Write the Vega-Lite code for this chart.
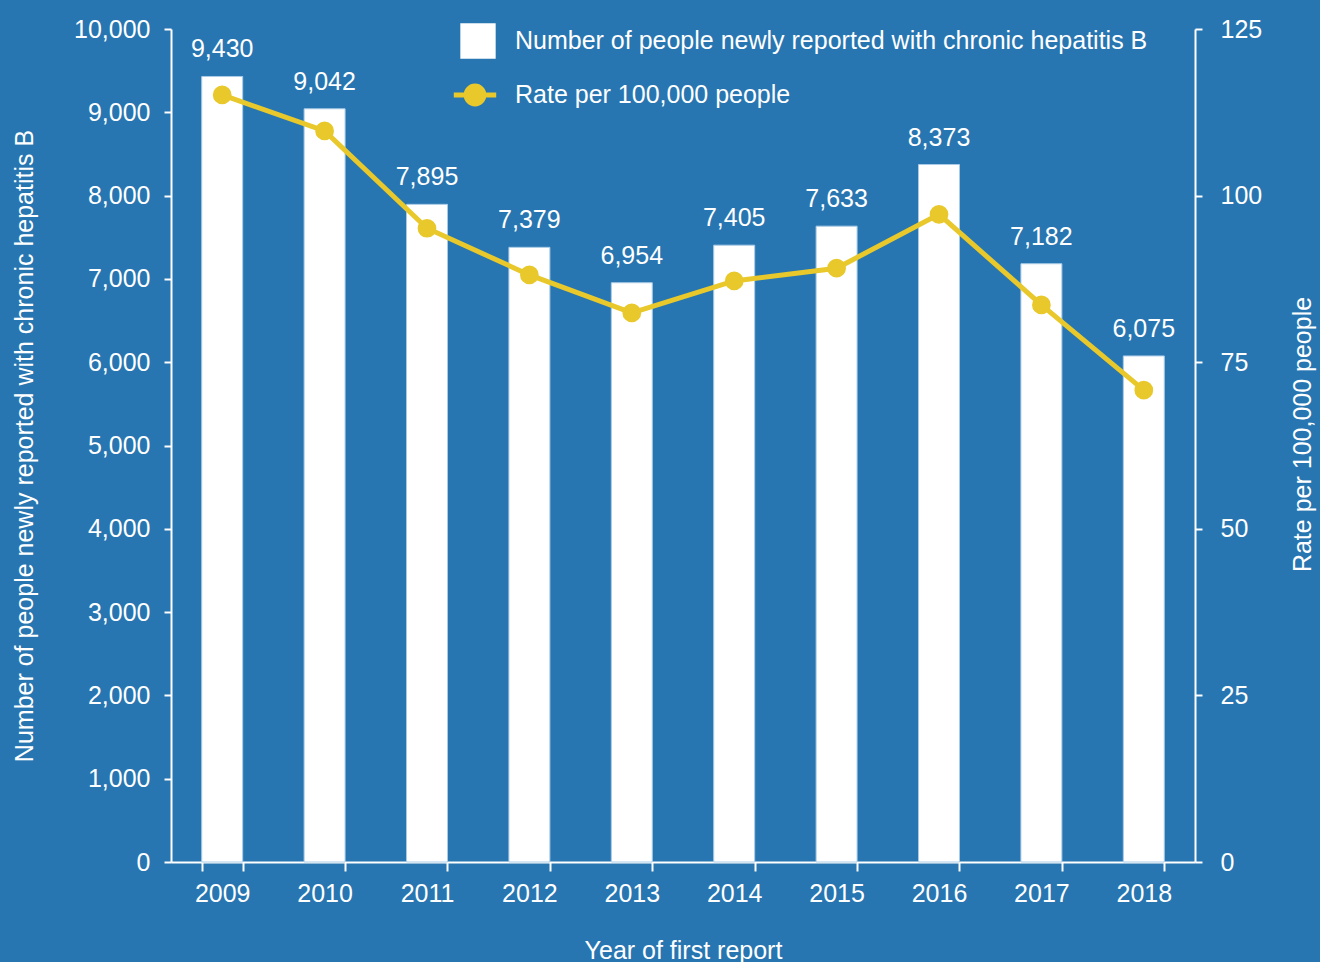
{
  "$schema": "https://vega.github.io/schema/vega-lite/v6.json",
  "width": 1024,
  "height": 833,
  "autosize": {"type": "none"},
  "padding": {"left": 171, "top": 29, "right": 125, "bottom": 100},
  "background": "#2776B1",
  "config": {
    "view": {"stroke": null},
    "font": "Liberation Sans",
    "axis": {
      "domainColor": "white",
      "domainWidth": 2,
      "tickColor": "white",
      "tickWidth": 2,
      "tickSize": 7,
      "labelColor": "white",
      "labelFontSize": 25,
      "labelFont": "Liberation Sans",
      "titleColor": "white",
      "titleFontSize": 25,
      "titleFontWeight": "normal",
      "titleFont": "Liberation Sans",
      "grid": false
    },
    "legend": {
      "labelColor": "white",
      "labelFontSize": 25,
      "labelFont": "Liberation Sans",
      "labelLimit": 0
    }
  },
  "data": {
    "values": [
      {"year": "2009", "count": 9430, "rate": 115.1},
      {"year": "2010", "count": 9042, "rate": 109.7},
      {"year": "2011", "count": 7895, "rate": 95.1},
      {"year": "2012", "count": 7379, "rate": 88.1},
      {"year": "2013", "count": 6954, "rate": 82.4},
      {"year": "2014", "count": 7405, "rate": 87.2},
      {"year": "2015", "count": 7633, "rate": 89.1},
      {"year": "2016", "count": 8373, "rate": 97.2},
      {"year": "2017", "count": 7182, "rate": 83.6},
      {"year": "2018", "count": 6075, "rate": 70.8}
    ]
  },
  "encoding": {
    "x": {
      "field": "year",
      "type": "ordinal",
      "scale": {"paddingInner": 0.6, "paddingOuter": 0.3},
      "axis": {
        "title": "Year of first report",
        "labelAngle": 0,
        "labelPadding": 10,
        "tickBand": "extent",
        "tickSize": 9,
        "titlePadding": 32
      }
    }
  },
  "layer": [
    {
      "encoding": {
        "y": {
          "field": "count",
          "type": "quantitative",
          "scale": {"domain": [0, 10000]},
          "axis": {
            "title": "Number of people newly reported with chronic hepatitis B",
            "format": ",.0f",
            "values": [0, 1000, 2000, 3000, 4000, 5000, 6000, 7000, 8000, 9000, 10000],
            "labelPadding": 14,
            "titlePadding": 36
          }
        }
      },
      "layer": [
        {
          "mark": {"type": "bar", "stroke": "#A9CBE6", "strokeWidth": 1},
          "encoding": {
            "fill": {
              "datum": "Number of people newly reported with chronic hepatitis B",
              "type": "nominal",
              "scale": {"range": ["white"]},
              "legend": {
                "title": null,
                "orient": "none",
                "legendX": 289,
                "legendY": -6,
                "symbolType": "square",
                "symbolSize": 1250,
                "symbolStrokeWidth": 0,
                "symbolOpacity": 1,
                "labelOffset": 19
              }
            }
          }
        },
        {
          "mark": {"type": "text", "baseline": "bottom", "dy": -14, "fontSize": 25, "color": "white"},
          "encoding": {
            "text": {"field": "count", "type": "quantitative", "format": ",.0f"}
          }
        }
      ]
    },
    {
      "mark": {"type": "line", "strokeWidth": 5, "color": "#E8C82B", "point": {"filled": true, "size": 280, "color": "#E8C82B"}},
      "encoding": {
        "y": {
          "field": "rate",
          "type": "quantitative",
          "scale": {"domain": [0, 125]},
          "axis": {
            "orient": "right",
            "title": "Rate per 100,000 people",
            "titleAngle": 270,
            "titleY": 405,
            "values": [0, 25, 50, 75, 100, 125],
            "labelPadding": 18,
            "titlePadding": 54
          }
        },
        "stroke": {
          "datum": "Rate per 100,000 people",
          "type": "nominal",
          "scale": {"range": ["#E8C82B"]},
          "legend": {
            "title": null,
            "orient": "none",
            "legendX": 280,
            "legendY": 42,
            "symbolType": "M-1,0L1,0M-0.42,0A0.42,0.42 0 1,1 0.42,0A0.42,0.42 0 1,1 -0.42,0Z",
            "symbolSize": 1800,
            "symbolStrokeWidth": 5,
            "symbolFillColor": "#E8C82B",
            "symbolStrokeColor": "#E8C82B",
            "labelOffset": 16
          }
        }
      }
    }
  ],
  "resolve": {"scale": {"y": "independent"}}
}
